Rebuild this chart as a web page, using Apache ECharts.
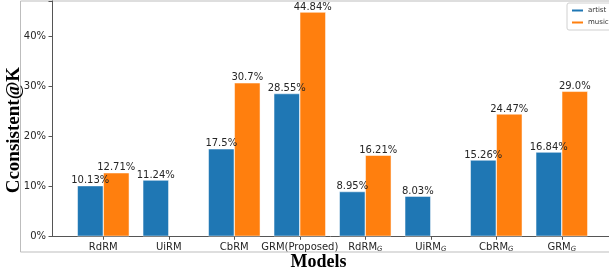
<!DOCTYPE html>
<html>
<head>
<meta charset="utf-8">
<script src="https://cdn.jsdelivr.net/npm/echarts@6/dist/echarts.min.js"></script>
<style>html,body{margin:0;padding:0;background:#fff}#c{width:609px;height:273px}</style>
</head>
<body>
<div id="c"></div>
<script>
const categories = ['RdRM','UiRM','CbRM','GRM(Proposed)','RdRM_G','UiRM_G','CbRM_G','GRM_G'];
const artist = [10.13, 11.24, 17.5, 28.55, 8.95, 8.03, 15.26, 16.84];
const music = [12.71, null, 30.7, 44.84, 16.21, null, 24.47, 29.0];
const artistText = ['10.13%','11.24%','17.5%','28.55%','8.95%','8.03%','15.26%','16.84%'];
const musicText = ['12.71%','','30.7%','44.84%','16.21%','','24.47%','29.0%'];
const yTicks = [0, 10, 20, 30, 40];

const chart = echarts.init(document.getElementById('c'), null, {renderer: 'canvas'});
const font = 'DejaVu Sans';
function pairs(vals) {
  const out = [];
  vals.forEach((v, i) => { if (v !== null) out.push([i, v]); });
  return out;
}
function mkLabel(texts) {
  return {
    show: true, position: 'top', distance: 0,
    fontFamily: font, fontSize: 10, color: '#262626',
    formatter: p => texts[p.data[0]]
  };
}
const idx = categories.map((_, i) => i);
chart.setOption({
  animation: false,
  graphic: [{
    type: 'rect', silent: true, z: -1,
    shape: {x: 20.5, y: 1, width: 620, height: 251},
    style: {fill: 'none', stroke: '#bdbdbd', lineWidth: 1}
  }],
  grid: {left: 52, right: 0, top: 0.9, bottom: 36.7, containLabel: false, outerBoundsMode: 'none'},
  legend: {
    orient: 'vertical', left: 567, top: 3,
    data: ['artist', 'music'],
    icon: 'rect', itemWidth: 13, itemHeight: 4, itemGap: 5,
    padding: [4, 12, 4, 3],
    borderColor: '#d0d0d0', borderWidth: 1, borderRadius: 2,
    textStyle: {fontFamily: font, fontSize: 7, color: '#333', padding: [0, 0, 0, -1]}
  },
  xAxis: {
    type: 'value', min: -0.783, max: 7.721,
    name: 'Models', nameLocation: 'middle', nameGap: 17.5, nameMoveOverlap: false,
    nameTextStyle: {fontFamily: 'Liberation Serif', fontWeight: 'bold', fontSize: 18, color: '#000', padding: [0, 24, 0, 0]},
    splitLine: {show: false},
    axisLine: {show: true, onZero: false, lineStyle: {color: '#555', width: 1}},
    axisTick: {show: true, customValues: idx, length: 3.5, inside: false, lineStyle: {color: '#555'}},
    axisLabel: {
      customValues: idx, margin: 4,
      fontFamily: font, fontSize: 10, color: '#262626',
      formatter: v => {
        const n = categories[Math.round(v)];
        if (n === undefined) return '';
        return n.endsWith('_G') ? '{m|' + n.slice(0, -2) + '}{s|G}' : '{m|' + n + '}';
      },
      rich: {
        m: {fontFamily: font, fontSize: 10, color: '#262626', lineHeight: 12, verticalAlign: 'bottom'},
        s: {fontFamily: font, fontSize: 7, fontStyle: 'italic', color: '#262626', lineHeight: 12, verticalAlign: 'bottom', padding: [3, 0, 0, 0]}
      }
    }
  },
  yAxis: {
    type: 'value', min: 0, max: 47.08, interval: 10,
    name: 'Cconsistent@K', nameLocation: 'middle', nameGap: 28, nameMoveOverlap: false,
    nameTextStyle: {fontFamily: 'Liberation Serif', fontWeight: 'bold', fontSize: 19, color: '#000', padding: [0, 23, 0, 0]},
    splitLine: {show: false},
    axisLine: {show: true, onZero: false, lineStyle: {color: '#555', width: 1}},
    axisTick: {show: true, length: 3.5, lineStyle: {color: '#555'}},
    axisLabel: {
      customValues: yTicks, margin: 6,
      fontFamily: font, fontSize: 10, color: '#262626',
      formatter: v => v + '%'
    }
  },
  series: [
    {
      name: 'artist', type: 'bar', data: pairs(artist),
      barWidth: 26, barGap: '0%',
      itemStyle: {color: '#1f77b4', borderColor: '#ffffff', borderWidth: 0.5},
      label: mkLabel(artistText)
    },
    {
      name: 'music', type: 'bar', data: pairs(music),
      barWidth: 26, barGap: '0%',
      itemStyle: {color: '#ff7f0e', borderColor: '#ffffff', borderWidth: 0.5},
      label: mkLabel(musicText)
    }
  ]
});
</script>
</body>
</html>
